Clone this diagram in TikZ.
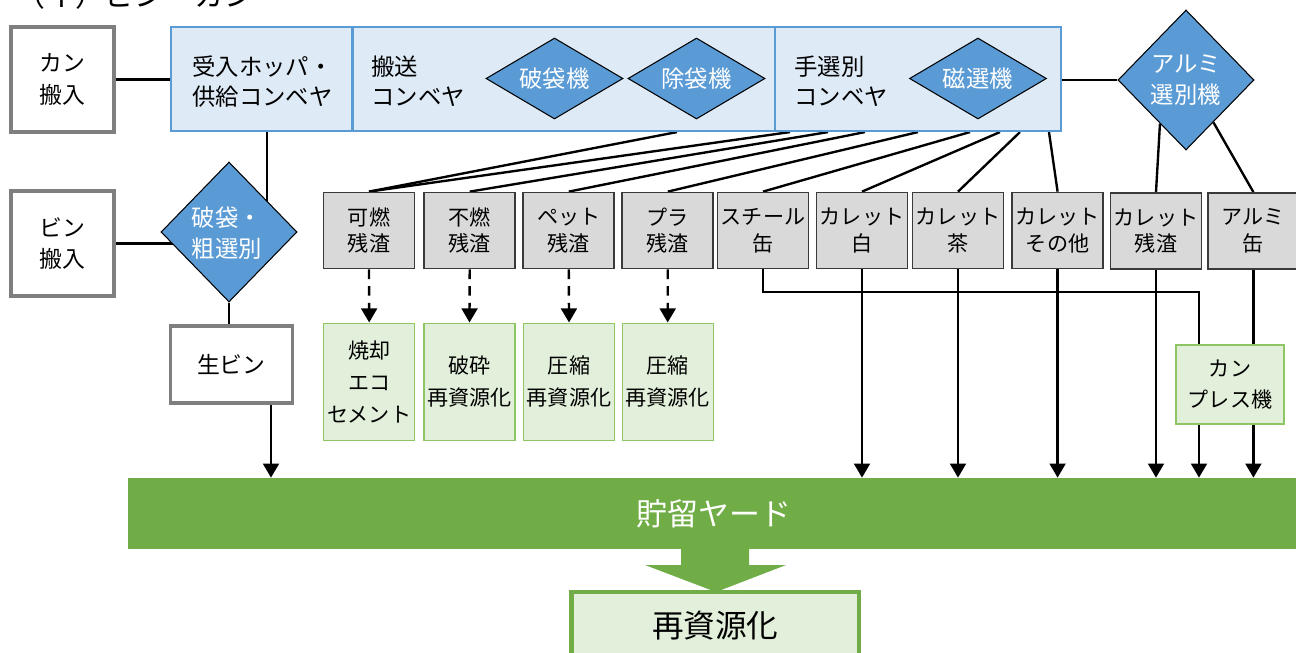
\documentclass[tikz,border=0pt]{standalone}
\usepackage{fontspec}
\setmainfont{Noto Sans CJK JP}
\usetikzlibrary{shapes.geometric,arrows.meta,backgrounds,calc}
\definecolor{convblue}{HTML}{5B9BD5}
\definecolor{convfill}{HTML}{DEEBF7}
\definecolor{boxgray}{HTML}{7F7F7F}
\definecolor{gfill}{HTML}{D9D9D9}
\definecolor{gborder}{HTML}{3A3A3A}
\definecolor{grfill}{HTML}{E2EFDA}
\definecolor{grborder}{HTML}{8DC663}
\definecolor{ygreen}{HTML}{70AD47}
\newcommand\pxu{0.02cm}
\begin{document}
\begin{tikzpicture}[x=\pxu, y=-\pxu,
  inbox/.style={draw=boxgray, line width=1.9pt, fill=white, minimum width=103*\pxu, minimum height=105*\pxu, inner sep=0pt, align=center, font=\fontsize{13pt}{18pt}\selectfont},
  conv/.style={draw=convblue, fill=convfill, line width=1.2pt, inner sep=0pt, minimum height=104*\pxu},
  convtext/.style={anchor=west, inner sep=0pt, align=left, font=\fontsize{13.3pt}{17pt}\selectfont},
  diam/.style={diamond, draw=black, line width=0.6pt, fill=convblue, inner sep=0pt},
  diamtext/.style={text=white, inner sep=0pt, align=center, font=\fontsize{13.3pt}{18pt}\selectfont},
  gbox/.style={draw=gborder, fill=gfill, line width=1pt, minimum width=91*\pxu, minimum height=76*\pxu, inner sep=0pt, align=center, font=\fontsize{12pt}{15.1pt}\selectfont},
  grbox/.style={draw=grborder, fill=grfill, line width=0.8pt, minimum width=91*\pxu, minimum height=117*\pxu, inner sep=0pt, align=center, font=\fontsize{12pt}{18.1pt}\selectfont},
  conn/.style={line width=1.35pt, black},
  arr/.style={conn, -{Triangle[width=9pt,length=8pt]}},
  darr/.style={arr, dash pattern=on 5.5pt off 4pt}
]
\useasboundingbox (0,0) rectangle (1296,653);

% title
\node[anchor=base west, inner sep=0pt, font=\fontsize{17pt}{20pt}\selectfont] (title) at (15,6.5) {（イ）ビン・カン};

% input boxes
\node[inbox] (kan) at (62.5,79.5) {カン\\搬入};
\node[inbox] (bin) at (62.5,243.5) {ビン\\搬入};

% conveyor sections
\node[conv, minimum width=181.5*\pxu] (conv1) at (261.75,79) {};
\node[conv, minimum width=422.5*\pxu] (conv2) at (563.75,79) {};
\node[conv, minimum width=286*\pxu] (conv3) at (918,79) {};
\node[convtext] (t1) at (192,81.5) {受入ホッパ・\\供給コンベヤ};
\node[convtext] (t2) at (371,81.5) {搬送\\コンベヤ};
\node[convtext] (t3) at (794,81.5) {手選別\\コンベヤ};

% diamonds
\node[diam, minimum width=137*\pxu, minimum height=81*\pxu] (hatai) at (554.5,78.5) {};
\node[diamtext] (hataitx) at (hatai.center) {破袋機};
\node[diam, minimum width=137*\pxu, minimum height=81*\pxu] (jotai) at (696.5,78.5) {};
\node[diamtext] (jotaitx) at (jotai.center) {除袋機};
\node[diam, minimum width=137*\pxu, minimum height=81*\pxu] (jisen) at (978,78.5) {};
\node[diamtext] (jisentx) at (jisen.center) {磁選機};
\node[diam, minimum width=136*\pxu, minimum height=140*\pxu] (alumi) at (1186,80) {};
\node[diamtext] (alumitx) at (alumi.center) {アルミ\\選別機};
\node[diam, minimum width=136*\pxu, minimum height=140*\pxu] (sort) at (229,232) {};
\node[diamtext, align=left] (sorttx) at (227,233) {破袋・\\粗選別};

% gray residue boxes
\node[gbox] (kanen) at (369,230.5) {可燃\\残渣};
\node[gbox] (funen) at (469.7,230.5) {不燃\\残渣};
\node[gbox] (pet) at (568.8,230.5) {ペット\\残渣};
\node[gbox] (pura) at (667.8,230.5) {プラ\\残渣};
\node[gbox] (steel) at (763,230.5) {スチール\\缶};
\node[gbox] (white) at (862,230.5) {カレット\\白};
\node[gbox] (brown) at (958,230.5) {カレット\\茶};
\node[gbox] (other) at (1057.6,230.5) {カレット\\その他};
\node[gbox] (residue) at (1156,231) {カレット\\残渣};
\node[gbox, minimum width=91.2*\pxu] (alcan) at (1253.4,231) {アルミ\\缶};

% green treatment boxes
\node[grbox] (incin) at (369.2,381.7) {焼却\\エコ\\セメント};
\node[grbox] (crush) at (469.5,381.7) {破砕\\再資源化};
\node[grbox] (comp1) at (569,381.7) {圧縮\\再資源化};
\node[grbox] (comp2) at (667.7,381.7) {圧縮\\再資源化};
\node[grbox, minimum width=108*\pxu, minimum height=79*\pxu] (press) at (1230,384.5) {カン\\プレス機};

% raw bottles
\node[inbox, minimum width=122*\pxu, minimum height=77*\pxu] (namabin) at (231.4,364.4) {生ビン};

% yard and final box
\node[fill=ygreen, minimum width=1172.5*\pxu, minimum height=71*\pxu, inner sep=0pt, text=white, font=\fontsize{17.6pt}{20pt}\selectfont] (yard) at (713.75,513.5) {貯留ヤード};
\fill[ygreen] (681,549) -- (681,565) -- (645,565) -- (716,592) -- (786,565) -- (749,565) -- (749,549) -- cycle;
\node[draw=ygreen, fill=grfill, line width=2.4pt, minimum width=287.4*\pxu, minimum height=68*\pxu, inner sep=0pt, font=\fontsize{18pt}{20pt}\selectfont] (recycle) at (715.3,626) {再資源化};

% helper coordinates
\coordinate (o1) at (677,0);
\coordinate (o2) at (790,0);
\coordinate (o3) at (828,0);
\coordinate (o4) at (865,0);
\coordinate (o5) at (918,0);
\coordinate (o6) at (970,0);
\coordinate (o7) at (1000,0);
\coordinate (o8) at (1020,0);
\coordinate (o9) at (1049,0);
\coordinate (c267) at (267,0);
\coordinate (c271) at (271,0);
\coordinate (px1) at (1199,0);
\coordinate (sy) at (0,291.7);

\begin{scope}[on background layer]
\fill[white] (0,0) rectangle (1296,653);
% inputs
\draw[conn] (kan.east) -- (conv1.west |- kan.east);
\draw[conn] (bin.east) -- (bin.east -| sort.center);
\draw[conn] (conv1.south -| c267) -- (sort.center -| c267);
\draw[conn] (sort.south) -- (namabin.north -| sort.south);
\draw[arr] (namabin.south -| c271) -- (yard.north -| c271);
\draw[conn] (conv3.east |- alumi.west) -- (alumi.west);
% fan-out from conveyor
\draw[conn] (conv2.south -| o1) -- (kanen.north);
\draw[conn] (conv3.south -| o2) -- (kanen.north);
\draw[conn] (conv3.south -| o3) -- (funen.north);
\draw[conn] (conv3.south -| o4) -- (pet.north);
\draw[conn] (conv3.south -| o5) -- (pura.north);
\draw[conn] (conv3.south -| o6) -- (steel.north);
\draw[conn] (conv3.south -| o7) -- (white.north);
\draw[conn] (conv3.south -| o8) -- (brown.north);
\draw[conn] (conv3.south -| o9) -- (other.north);
% aluminium sorter outputs
\draw[conn] ($(alumi.south)!0.38!(alumi.west)$) -- (residue.north);
\draw[conn] ($(alumi.south)!0.4!(alumi.east)$) -- (alcan.north);
% dashed to treatments
\draw[darr] (kanen.south) -- (incin.north);
\draw[darr] (funen.south) -- (crush.north);
\draw[darr] (pet.south) -- (comp1.north);
\draw[darr] (pura.south) -- (comp2.north);
% to yard
\draw[arr] (white.south) -- (yard.north -| white.south);
\draw[arr] (brown.south) -- (yard.north -| brown.south);
\draw[arr] (other.south) -- (yard.north -| other.south);
\draw[arr] (residue.south) -- (yard.north -| residue.south);
\draw[conn] (steel.south) |- (px1 |- sy) -- (press.north -| px1);
\draw[arr] (press.south -| px1) -- (yard.north -| px1);
\draw[conn] (alcan.south) -- (press.north -| alcan.south);
\draw[arr] (press.south -| alcan.south) -- (yard.north -| alcan.south);
\end{scope}
\end{tikzpicture}
\end{document}
